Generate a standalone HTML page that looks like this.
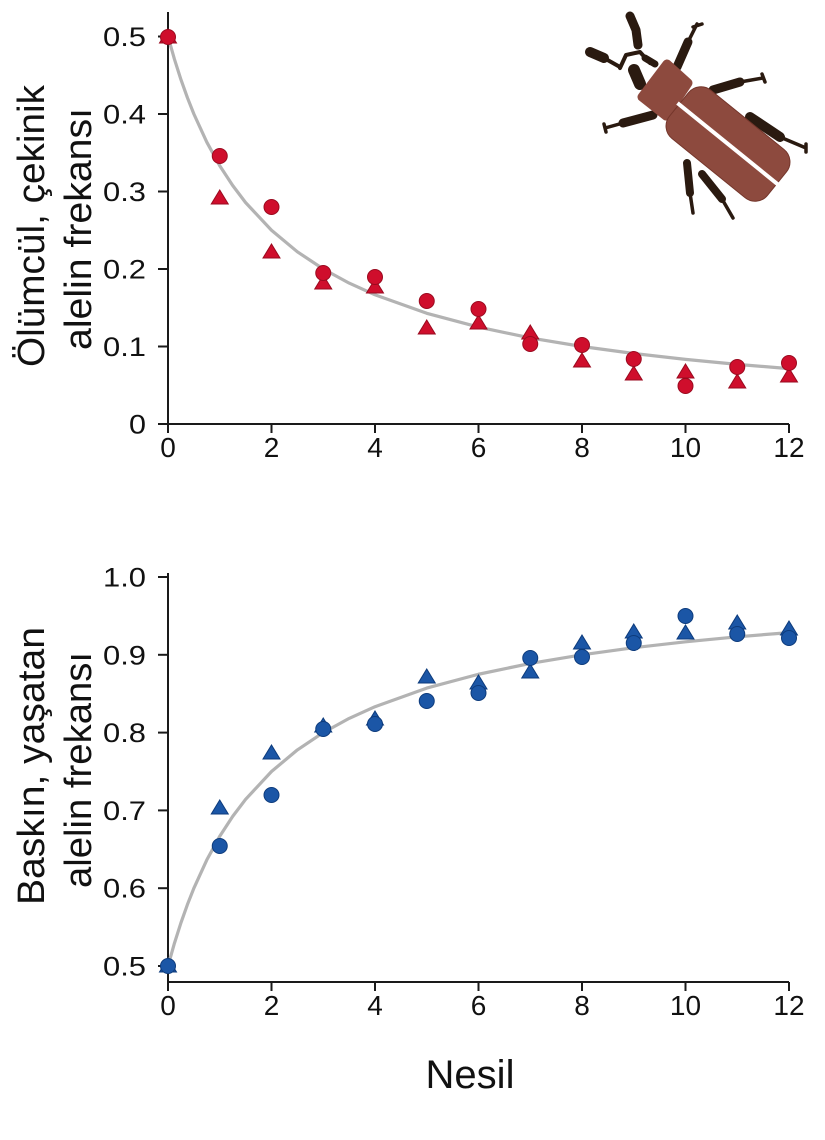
<!DOCTYPE html>
<html><head><meta charset="utf-8"><style>
html,body{margin:0;padding:0;background:#fff;}
svg{display:block;}
text{font-family:"Liberation Sans",Arial,sans-serif;fill:#111;}
</style></head><body>
<svg width="825" height="1140" viewBox="0 0 825 1140" xmlns="http://www.w3.org/2000/svg">
<rect width="825" height="1140" fill="#fff"/>

<!-- ===== TOP CHART ===== -->
<g stroke="#1a1a1a" stroke-width="2" fill="none">
  <line x1="168" y1="12" x2="168" y2="424"/>
  <line x1="158" y1="424" x2="789" y2="424"/>
  <line x1="158" y1="36.5" x2="168" y2="36.5"/>
  <line x1="158" y1="114" x2="168" y2="114"/>
  <line x1="158" y1="191.5" x2="168" y2="191.5"/>
  <line x1="158" y1="269" x2="168" y2="269"/>
  <line x1="158" y1="346.5" x2="168" y2="346.5"/>
  <line x1="168" y1="424" x2="168" y2="433"/>
  <line x1="271.5" y1="424" x2="271.5" y2="433"/>
  <line x1="375" y1="424" x2="375" y2="433"/>
  <line x1="478.5" y1="424" x2="478.5" y2="433"/>
  <line x1="582" y1="424" x2="582" y2="433"/>
  <line x1="685.5" y1="424" x2="685.5" y2="433"/>
  <line x1="789" y1="424" x2="789" y2="433"/>
</g>
<g font-size="27" text-anchor="end">
  <text x="146" y="46" textLength="43" lengthAdjust="spacingAndGlyphs">0.5</text>
  <text x="146" y="123.5" textLength="43" lengthAdjust="spacingAndGlyphs">0.4</text>
  <text x="146" y="201" textLength="43" lengthAdjust="spacingAndGlyphs">0.3</text>
  <text x="146" y="278.5" textLength="43" lengthAdjust="spacingAndGlyphs">0.2</text>
  <text x="146" y="356" textLength="43" lengthAdjust="spacingAndGlyphs">0.1</text>
  <text x="146" y="433.5" textLength="17" lengthAdjust="spacingAndGlyphs">0</text>
</g>
<g font-size="28" text-anchor="middle">
  <text x="168" y="457">0</text>
  <text x="271.5" y="457">2</text>
  <text x="375" y="457">4</text>
  <text x="478.5" y="457">6</text>
  <text x="582" y="457">8</text>
  <text x="685.5" y="457">10</text>
  <text x="789" y="457">12</text>
</g>
<g font-size="38" text-anchor="middle">
  <text transform="translate(44,226) rotate(-90)" textLength="282" lengthAdjust="spacingAndGlyphs">Ölümcül, çekinik</text>
  <text transform="translate(91,229) rotate(-90)" textLength="242" lengthAdjust="spacingAndGlyphs">alelin frekansı</text>
</g>
<polyline fill="none" stroke="#b3b3b3" stroke-width="3.2" stroke-linejoin="round" stroke-linecap="round"
 points="168,36.5 174.47,59.3 180.94,79.6 187.41,97.7 193.88,114 206.81,142.2 219.75,165.7 232.69,185.5 245.63,202.6 271.5,230.25 297.38,251.8 323.25,269 349.13,283.1 375,294.8 426.75,313.3 478.5,327.1 530.25,337.9 582,346.5 633.75,353.5 685.5,359.4 737.25,364.4 789,368.6"/>
<g fill="#cf0e2c" stroke="#9a0a1f" stroke-width="1">
  <path d="M168,29 L176.5,43 L159.5,43 Z"/>
  <path d="M219.75,190 L228.25,204 L211.25,204 Z"/>
  <path d="M271.5,244 L280,258 L263,258 Z"/>
  <path d="M323.25,275 L331.75,289 L314.75,289 Z"/>
  <path d="M375,279 L383.5,293 L366.5,293 Z"/>
  <path d="M426.75,320 L435.25,334 L418.25,334 Z"/>
  <path d="M478.5,315 L487,329 L470,329 Z"/>
  <path d="M530.25,325 L538.75,339 L521.75,339 Z"/>
  <path d="M582,353 L590.5,367 L573.5,367 Z"/>
  <path d="M633.75,366 L642.25,380 L625.25,380 Z"/>
  <path d="M685.5,364 L694,378 L677,378 Z"/>
  <path d="M737.25,374 L745.75,388 L728.75,388 Z"/>
  <path d="M789,368 L797.5,382 L780.5,382 Z"/>
  <circle cx="168" cy="37" r="7.5"/>
  <circle cx="219.75" cy="156" r="7.5"/>
  <circle cx="271.5" cy="207" r="7.5"/>
  <circle cx="323.25" cy="273" r="7.5"/>
  <circle cx="375" cy="277" r="7.5"/>
  <circle cx="426.75" cy="301" r="7.5"/>
  <circle cx="478.5" cy="309" r="7.5"/>
  <circle cx="530.25" cy="344" r="7.5"/>
  <circle cx="582" cy="345" r="7.5"/>
  <circle cx="633.75" cy="359" r="7.5"/>
  <circle cx="685.5" cy="386" r="7.5"/>
  <circle cx="737.25" cy="367" r="7.5"/>
  <circle cx="789" cy="363" r="7.5"/>
</g>

<!-- ===== BEETLE ===== -->
<g stroke="#2a1a10" stroke-linecap="round" stroke-linejoin="round" fill="none">
  <path d="M630,16 L636,30 L638,45" stroke-width="9"/>
  <path d="M590,52 L604,58" stroke-width="10"/>
  <path d="M604,58 L620,67" stroke-width="4"/>
  <path d="M620,68 L626,55 L640,52 L650,63" stroke-width="4"/>
  <path d="M645,58 L655,64" stroke-width="7"/>
  <path d="M634,70 L640,84" stroke-width="12"/>
  <path d="M677,67 L688,42" stroke-width="9"/>
  <path d="M688,42 L697,24 M693,27 L702,24" stroke-width="3.5"/>
  <path d="M653,115 L623,123" stroke-width="9"/>
  <path d="M623,123 L605,128 M604,124 L606,132" stroke-width="3.5"/>
  <path d="M713,90 L740,82" stroke-width="9"/>
  <path d="M740,82 L763,78 M762,74 L765,82" stroke-width="3.5"/>
  <path d="M750,117 L780,137" stroke-width="10"/>
  <path d="M780,137 L806,148 M806,144 L806,152" stroke-width="3.5"/>
  <path d="M687,163 L690,193" stroke-width="8"/>
  <path d="M690,193 L693,213" stroke-width="3.5"/>
  <path d="M702,174 L722,199" stroke-width="8"/>
  <path d="M722,199 L733,218" stroke-width="3.5"/>
</g>
<g fill="#8d4a3e" stroke="#8d4a3e" stroke-width="9" stroke-linejoin="round">
  <path d="M642,97 L667,64 L688,83 L666,116 Z"/>
</g>
<g transform="translate(728,144) rotate(39)">
  <rect x="-63" y="-31" width="126" height="62" rx="16" fill="#8d4a3e" stroke="#74362b" stroke-width="1"/>
  <line x1="-65" y1="0" x2="65" y2="0" stroke="#fff" stroke-width="4"/>
</g>

<!-- ===== BOTTOM CHART ===== -->
<g stroke="#1a1a1a" stroke-width="2" fill="none">
  <line x1="168" y1="573" x2="168" y2="982"/>
  <line x1="168" y1="982" x2="789" y2="982"/>
  <line x1="158" y1="577" x2="168" y2="577"/>
  <line x1="158" y1="654.8" x2="168" y2="654.8"/>
  <line x1="158" y1="732.6" x2="168" y2="732.6"/>
  <line x1="158" y1="810.4" x2="168" y2="810.4"/>
  <line x1="158" y1="888.2" x2="168" y2="888.2"/>
  <line x1="158" y1="966" x2="168" y2="966"/>
  <line x1="168" y1="982" x2="168" y2="991"/>
  <line x1="271.5" y1="982" x2="271.5" y2="991"/>
  <line x1="375" y1="982" x2="375" y2="991"/>
  <line x1="478.5" y1="982" x2="478.5" y2="991"/>
  <line x1="582" y1="982" x2="582" y2="991"/>
  <line x1="685.5" y1="982" x2="685.5" y2="991"/>
  <line x1="789" y1="982" x2="789" y2="991"/>
</g>
<g font-size="27" text-anchor="end">
  <text x="146" y="586.5" textLength="43" lengthAdjust="spacingAndGlyphs">1.0</text>
  <text x="146" y="664.3" textLength="43" lengthAdjust="spacingAndGlyphs">0.9</text>
  <text x="146" y="742.1" textLength="43" lengthAdjust="spacingAndGlyphs">0.8</text>
  <text x="146" y="819.9" textLength="43" lengthAdjust="spacingAndGlyphs">0.7</text>
  <text x="146" y="897.7" textLength="43" lengthAdjust="spacingAndGlyphs">0.6</text>
  <text x="146" y="975.5" textLength="43" lengthAdjust="spacingAndGlyphs">0.5</text>
</g>
<g font-size="28" text-anchor="middle">
  <text x="168" y="1015">0</text>
  <text x="271.5" y="1015">2</text>
  <text x="375" y="1015">4</text>
  <text x="478.5" y="1015">6</text>
  <text x="582" y="1015">8</text>
  <text x="685.5" y="1015">10</text>
  <text x="789" y="1015">12</text>
</g>
<text x="470" y="1088" font-size="40" text-anchor="middle">Nesil</text>
<g font-size="38" text-anchor="middle">
  <text transform="translate(44,766) rotate(-90)" textLength="278" lengthAdjust="spacingAndGlyphs">Baskın, yaşatan</text>
  <text transform="translate(91,770) rotate(-90)" textLength="236" lengthAdjust="spacingAndGlyphs">alelin frekansı</text>
</g>
<polyline fill="none" stroke="#b3b3b3" stroke-width="3.2" stroke-linejoin="round" stroke-linecap="round"
 points="168,966 174.47,943.1 180.94,922.8 187.41,904.6 193.88,888.2 206.81,859.9 219.75,836.3 232.69,816.4 245.63,799.3 271.5,771.5 297.38,749.9 323.25,732.6 349.13,718.4 375,706.7 426.75,688.1 478.5,674.25 530.25,663.4 582,654.8 633.75,647.7 685.5,641.8 737.25,636.8 789,632.6"/>
<g fill="#1b56a6" stroke="#0d3b7c" stroke-width="1">
  <path d="M168,958 L176.5,972 L159.5,972 Z"/>
  <path d="M219.75,800 L228.25,814 L211.25,814 Z"/>
  <path d="M271.5,745 L280,759 L263,759 Z"/>
  <path d="M323.25,718 L331.75,732 L314.75,732 Z"/>
  <path d="M375,711 L383.5,725 L366.5,725 Z"/>
  <path d="M426.75,669 L435.25,683 L418.25,683 Z"/>
  <path d="M478.5,675 L487,689 L470,689 Z"/>
  <path d="M530.25,664 L538.75,678 L521.75,678 Z"/>
  <path d="M582,635 L590.5,649 L573.5,649 Z"/>
  <path d="M633.75,624 L642.25,638 L625.25,638 Z"/>
  <path d="M685.5,625 L694,639 L677,639 Z"/>
  <path d="M737.25,615 L745.75,629 L728.75,629 Z"/>
  <path d="M789,621 L797.5,635 L780.5,635 Z"/>
  <circle cx="168" cy="966" r="7.5"/>
  <circle cx="219.75" cy="846" r="7.5"/>
  <circle cx="271.5" cy="795" r="7.5"/>
  <circle cx="323.25" cy="729" r="7.5"/>
  <circle cx="375" cy="724" r="7.5"/>
  <circle cx="426.75" cy="701" r="7.5"/>
  <circle cx="478.5" cy="693" r="7.5"/>
  <circle cx="530.25" cy="658" r="7.5"/>
  <circle cx="582" cy="657" r="7.5"/>
  <circle cx="633.75" cy="643" r="7.5"/>
  <circle cx="685.5" cy="616" r="7.5"/>
  <circle cx="737.25" cy="634" r="7.5"/>
  <circle cx="789" cy="638" r="7.5"/>
</g>
</svg>
</body></html>
